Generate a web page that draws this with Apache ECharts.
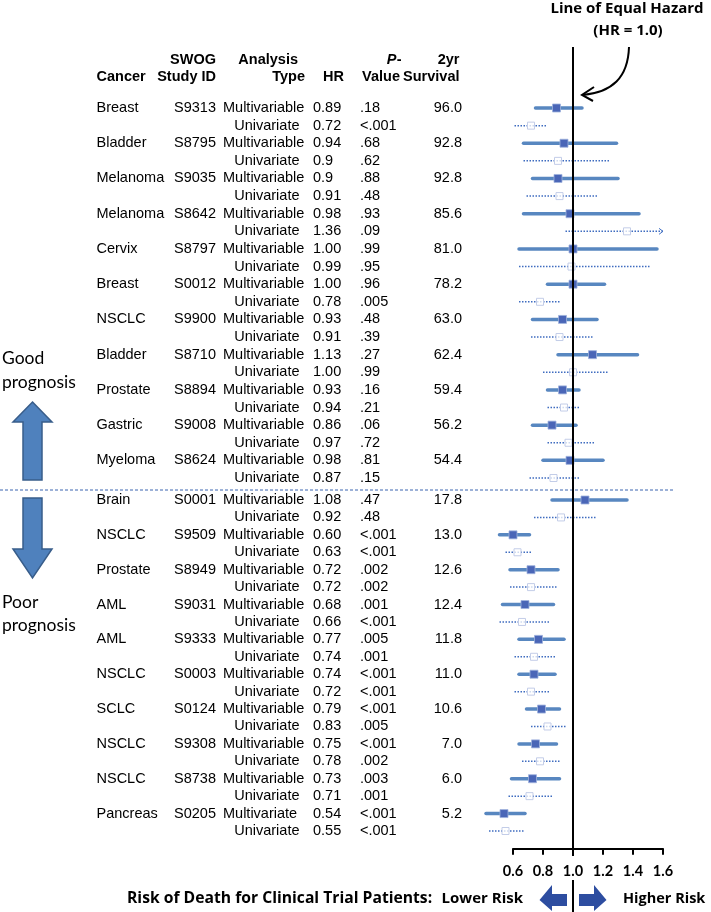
<!DOCTYPE html>
<html><head><meta charset="utf-8">
<script src="https://cdn.jsdelivr.net/npm/echarts@6/dist/echarts.min.js"></script>
<style>html,body{margin:0;padding:0;background:#fff}#c{width:711px;height:912px}</style>
</head><body><div id="c"></div>
<script>
// ---------- DATA ----------
const prognosis = ['Good','Good','Good','Good','Good','Good','Good','Good','Good','Good','Good','Good','Good','Good','Good','Good','Good','Good','Good','Good','Good','Good',
  'Poor','Poor','Poor','Poor','Poor','Poor','Poor','Poor','Poor','Poor','Poor','Poor','Poor','Poor','Poor','Poor','Poor','Poor','Poor','Poor'];
const cancer = ['Breast','','Bladder','','Melanoma','','Melanoma','','Cervix','','Breast','','NSCLC','','Bladder','','Prostate','','Gastric','','Myeloma','',
  'Brain','','NSCLC','','Prostate','','AML','','AML','','NSCLC','','SCLC','','NSCLC','','NSCLC','','Pancreas',''];
const studyId = ['S9313','','S8795','','S9035','','S8642','','S8797','','S0012','','S9900','','S8710','','S8894','','S9008','','S8624','',
  'S0001','','S9509','','S8949','','S9031','','S9333','','S0003','','S0124','','S9308','','S8738','','S0205',''];
const analysisType = ['Multivariable','Univariate','Multivariable','Univariate','Multivariable','Univariate','Multivariable','Univariate','Multivariable','Univariate','Multivariable','Univariate','Multivariable','Univariate','Multivariable','Univariate','Multivariable','Univariate','Multivariable','Univariate','Multivariable','Univariate',
  'Multivariable','Univariate','Multivariable','Univariate','Multivariable','Univariate','Multivariable','Univariate','Multivariable','Univariate','Multivariable','Univariate','Multivariable','Univariate','Multivariable','Univariate','Multivariable','Univariate','Multivariate','Univariate'];
const hazardRatio = ['0.89','0.72','0.94','0.9','0.9','0.91','0.98','1.36','1.00','0.99','1.00','0.78','0.93','0.91','1.13','1.00','0.93','0.94','0.86','0.97','0.98','0.87',
  '1.08','0.92','0.60','0.63','0.72','0.72','0.68','0.66','0.77','0.74','0.74','0.72','0.79','0.83','0.75','0.78','0.73','0.71','0.54','0.55'];
const pValue = ['.18','<.001','.68','.62','.88','.48','.93','.09','.99','.95','.96','.005','.48','.39','.27','.99','.16','.21','.06','.72','.81','.15',
  '.47','.48','<.001','<.001','.002','.002','.001','<.001','.005','.001','<.001','<.001','<.001','.005','<.001','.002','.003','.001','<.001','<.001'];
const survival2yr = ['96.0','','92.8','','92.8','','85.6','','81.0','','78.2','','63.0','','62.4','','59.4','','56.2','','54.4','',
  '17.8','','13.0','','12.6','','12.4','','11.8','','11.0','','10.6','','7.0','','6.0','','5.2',''];
const ciLow = [0.75,0.61,0.67,0.67,0.73,0.69,0.67,0.95,0.64,0.64,0.83,0.64,0.73,0.72,0.90,0.80,0.83,0.83,0.73,0.83,0.80,0.71,
  0.86,0.74,0.51,0.55,0.58,0.58,0.53,0.51,0.64,0.61,0.64,0.61,0.69,0.72,0.64,0.66,0.59,0.57,0.42,0.44];
const ciHigh = [1.06,0.83,1.29,1.25,1.30,1.17,1.44,1.94,1.56,1.51,1.21,0.92,1.16,1.13,1.43,1.24,1.04,1.04,1.02,1.14,1.20,1.04,
  1.36,1.15,0.71,0.72,0.90,0.89,0.87,0.84,0.94,0.89,0.88,0.84,0.91,0.95,0.89,0.91,0.91,0.86,0.68,0.68];
const xTicks = [0.6, 0.8, 1.0, 1.2, 1.4, 1.6];
const equalHazard = 1.0;

// ---------- BUILD ----------
const groupNames = ['Good','Poor'];
const ciData = [[],[]], tableData = [[],[]], rowLabels = [[],[]];
prognosis.forEach((g,i)=>{
  const gi = groupNames.indexOf(g);
  const r = rowLabels[gi].length;
  rowLabels[gi].push(String(r));
  ciData[gi].push([ciLow[i], r, ciHigh[i], parseFloat(hazardRatio[i]), analysisType[i].startsWith('Multi') ? 1 : 0]);
  tableData[gi].push([1, r, i]);
});
const xMin = xTicks[0], xMax = xTicks[xTicks.length-1];

const FT = '14.5px "Liberation Sans", Arial, sans-serif';
const FTB = 'bold 14.5px "Liberation Sans", Arial, sans-serif';
const FC = '"Lato", "Open Sans", sans-serif';
const FO = '"Open Sans", "Lato", sans-serif';

function ciItem(params, api){
  const lo = api.value(0), row = api.value(1), hi = api.value(2), hrv = api.value(3), multi = api.value(4) === 1;
  const y = api.coord([1,row])[1];
  const x1 = api.coord([lo,row])[0];
  const x2 = api.coord([Math.min(hi,xMax),row])[0];
  const xc = api.coord([hrv,row])[0];
  const ch = [];
  if (multi){
    ch.push({type:'line', shape:{x1:x1,y1:y,x2:x2,y2:y}, style:{stroke:'#4F81BD', lineWidth:3.5, lineCap:'round', opacity:0.95}});
    ch.push({type:'rect', shape:{x:xc-4,y:y-4,width:8,height:8}, style:{fill:'#4A66B7', stroke:'#9FB3DD', lineWidth:0.8}});
  } else {
    ch.push({type:'line', shape:{x1:x1,y1:y,x2:x2,y2:y}, style:{stroke:'#3F6CC0', lineWidth:1.5, lineDash:[1.5,1.5]}});
    if (hi > xMax) ch.push({type:'polyline', shape:{points:[[x2-4,y-3],[x2,y],[x2-4,y+3]]}, style:{stroke:'#4472C4', fill:null, lineWidth:1}});
    ch.push({type:'rect', shape:{x:xc-3.5,y:y-3.5,width:7,height:7}, style:{fill:'rgba(255,255,255,0.75)', stroke:'#C3CDE8', lineWidth:1}});
  }
  return {type:'group', children:ch};
}

function tableItem(params, api){
  const row = api.value(1), i = api.value(2);
  const y = api.coord([1,row])[1];
  const t = (text,x,align)=>({type:'text', style:{text:text, x:x, y:y, textAlign:align, textVerticalAlign:'middle', font:FT, fill:'#000'}});
  const multi = analysisType[i].startsWith('Multi');
  return {type:'group', children:[
    t(cancer[i], 96.5, 'left'),
    t(studyId[i], 216, 'right'),
    multi ? t(analysisType[i], 223, 'left') : t(analysisType[i], 299.5, 'right'),
    t(hazardRatio[i], 313, 'left'),
    t(pValue[i], 360, 'left'),
    t(survival2yr[i], 462, 'right')
  ]};
}

function refLineItem(params, api){
  const x = api.coord([api.value(0), 0])[0];
  return {type:'group', children:[
    {type:'line', shape:{x1:x,y1:47,x2:x,y2:856}, style:{stroke:'#000', lineWidth:2}},
    {type:'line', shape:{x1:x,y1:880,x2:x,y2:912}, style:{stroke:'#000', lineWidth:2}}
  ]};
}

const chart = echarts.init(document.getElementById('c'), null, {renderer:'canvas'});
const t = (text,x,y,font,align,extra)=>Object.assign({type:'text', silent:true, style:Object.assign({text:text, x:x, y:y, font:font, textAlign:align||'left', textVerticalAlign:'middle', fill:'#000'}, extra||{})});

chart.setOption({
  backgroundColor:'#fff',
  animation:false,
  grid:[
    {left:513, width:150, top:99.2, height:387.6},
    {left:513, width:150, top:491.3, height:348.4}
  ],
  xAxis:[
    {gridIndex:0, type:'value', min:xMin, max:xMax, show:false},
    {gridIndex:1, type:'value', min:xMin, max:xMax, interval:0.2, offset:9,
      axisLine:{show:true, lineStyle:{color:'#000', width:2}},
      axisTick:{show:true, length:6, lineStyle:{color:'#000', width:2}},
      splitLine:{show:false},
      axisLabel:{margin:15, color:'#000', fontFamily:'Lato', fontWeight:'bold', fontSize:14.5, formatter:v=>v.toFixed(1)}}
  ],
  yAxis:[
    {gridIndex:0, type:'category', data:rowLabels[0], inverse:true, show:false},
    {gridIndex:1, type:'category', data:rowLabels[1], inverse:true, show:false}
  ],
  series:[
    {type:'custom', xAxisIndex:0, yAxisIndex:0, data:tableData[0], renderItem:tableItem, silent:true},
    {type:'custom', xAxisIndex:1, yAxisIndex:1, data:tableData[1], renderItem:tableItem, silent:true},
    {type:'custom', xAxisIndex:0, yAxisIndex:0, data:ciData[0], renderItem:ciItem, silent:true, z:3},
    {type:'custom', xAxisIndex:1, yAxisIndex:1, data:ciData[1], renderItem:ciItem, silent:true, z:3},
    {type:'custom', xAxisIndex:1, yAxisIndex:1, data:[[equalHazard]], renderItem:refLineItem, silent:true, z:5}
  ],
  graphic:[
    // headers
    t('Cancer', 96.5, 77, FTB, 'left'),
    t('SWOG', 216, 60, FTB, 'right'),
    t('Study ID', 216, 77, FTB, 'right'),
    t('Analysis', 298, 60, FTB, 'right'),
    t('Type', 305, 77, FTB, 'right'),
    t('HR', 344, 77, FTB, 'right'),
    t('P', 396.5, 60, 'italic bold 14.5px "Liberation Sans", Arial, sans-serif', 'right'),
    t('-', 401.5, 60, FTB, 'right'),
    t('Value', 400, 77, FTB, 'right'),
    t('2yr', 459.5, 60, FTB, 'right'),
    t('Survival', 459.5, 77, FTB, 'right'),
    // title annotation
    t('Line of Equal Hazard', 627, 9, 'bold 15px ' + FO, 'center'),
    t('(HR = 1.0)', 628, 31, 'bold 15px ' + FO, 'center'),
    {type:'bezierCurve', silent:true, shape:{x1:629, y1:47, cpx1:628, cpy1:78, cpx2:612, cpy2:92, x2:583, y2:95}, style:{stroke:'#000', lineWidth:2, fill:null}},
    {type:'polyline', silent:true, shape:{points:[[594,87],[582,95],[593,101]]}, style:{stroke:'#000', lineWidth:2, fill:null}},
    // separator
    {type:'line', silent:true, shape:{x1:0, y1:490, x2:674, y2:490}, style:{stroke:'#3A64B0', lineWidth:1, lineDash:[3,2]}},
    // prognosis labels
    t('Good', 2, 358, '17.5px ' + FC, 'left'),
    t('prognosis', 2, 382, '17.5px ' + FC, 'left'),
    t('Poor', 2, 602, '17.5px ' + FC, 'left'),
    t('prognosis', 2, 625, '17.5px ' + FC, 'left'),
    {type:'polygon', silent:true, shape:{points:[[32.5,402],[52,422],[42,422],[42,480],[23,480],[23,422],[13,422]]}, style:{fill:'#4F81BD', stroke:'#385D8A', lineWidth:1.5}},
    {type:'polygon', silent:true, shape:{points:[[23,498],[42,498],[42,549],[52,549],[32.5,578],[13,549],[23,549]]}, style:{fill:'#4F81BD', stroke:'#385D8A', lineWidth:1.5}},
    // bottom label
    t('Risk of Death for Clinical Trial Patients:', 127, 899, 'bold 15.7px ' + FO, 'left'),
    t('Lower Risk', 523, 899, 'bold 15px ' + FO, 'right'),
    t('Higher Risk', 623, 899, 'bold 14.5px ' + FO, 'left'),
    {type:'polygon', silent:true, shape:{points:[[539.5,900],[552,885],[552,894],[567,894],[567,906],[552,906],[552,911]]}, style:{fill:'#2D4DA0'}},
    {type:'polygon', silent:true, shape:{points:[[606.5,900],[594,885],[594,894],[579,894],[579,906],[594,906],[594,911]]}, style:{fill:'#2D4DA0'}}
  ]
});
</script></body></html>
